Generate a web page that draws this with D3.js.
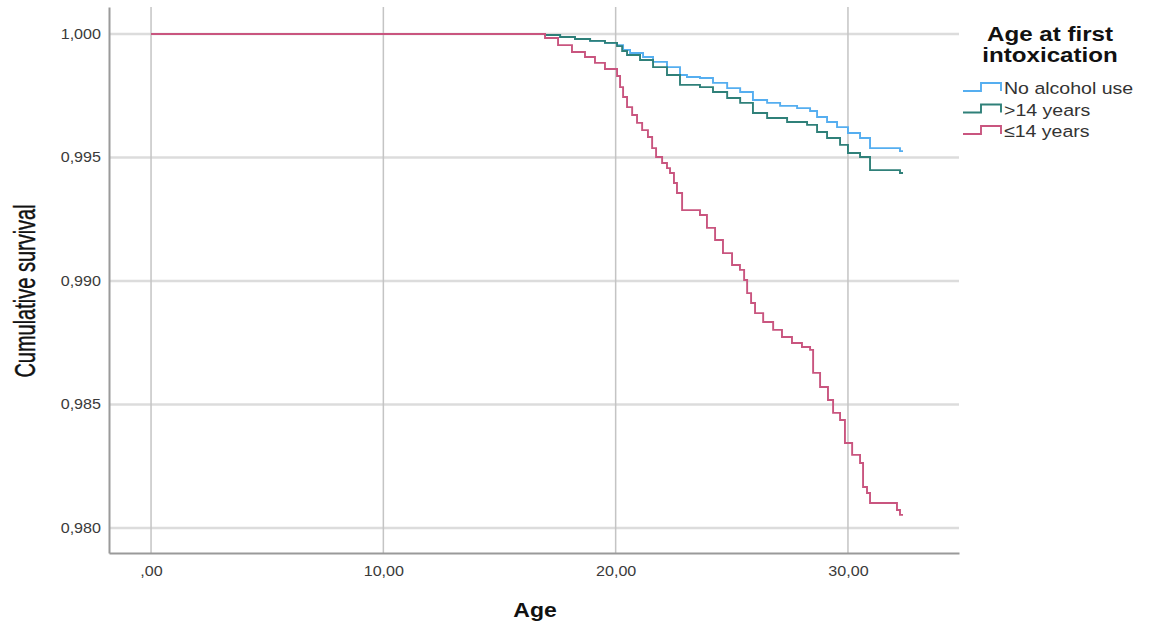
<!DOCTYPE html>
<html>
<head>
<meta charset="utf-8">
<script src="https://cdn.jsdelivr.net/npm/d3@7"></script>
<style>
  html, body { margin: 0; padding: 0; background: #ffffff; }
  svg { display: block; font-family: "Liberation Sans", Arial, sans-serif; }
</style>
</head>
<body>
<svg id="chart" width="1175" height="630"></svg>
<script>
// ---------- data ----------
const categories = ["No alcohol use", ">14 years", "≤14 years"];
const seriesColors = ["#55aef0", "#2f8079", "#c9557f"];

const noAlcoholAge  = [0, 16.96, 17.61, 18.25, 18.90, 19.54, 20.06, 20.32, 20.62, 21.18, 21.61, 22.21, 22.77, 23.07, 23.63, 24.19, 24.80, 25.36, 25.91, 26.52, 27.08, 27.81, 28.37, 28.67, 29.10, 29.53, 30.00, 30.52, 30.95, 32.24];
const noAlcoholSurv = [1, 0.99996, 0.99988, 0.99980, 0.99972, 0.99964, 0.99955, 0.99935, 0.99923, 0.99907, 0.99887, 0.99866, 0.99834, 0.99826, 0.99822, 0.99802, 0.99781, 0.99765, 0.99733, 0.99721, 0.99709, 0.99700, 0.99688, 0.99664, 0.99644, 0.99623, 0.99599, 0.99579, 0.99538, 0.99526];

const over14Age  = [0, 16.96, 17.61, 18.25, 18.90, 19.54, 20.06, 20.28, 20.49, 21.05, 21.61, 22.21, 22.77, 23.63, 24.19, 24.80, 25.36, 25.91, 26.52, 27.38, 28.24, 28.67, 29.10, 29.66, 30.00, 30.52, 30.95, 32.24];
const over14Surv = [1, 0.99996, 0.99988, 0.99980, 0.99972, 0.99964, 0.99951, 0.99931, 0.99915, 0.99895, 0.99866, 0.99834, 0.99794, 0.99785, 0.99765, 0.99741, 0.99721, 0.99680, 0.99660, 0.99644, 0.99632, 0.99603, 0.99579, 0.99551, 0.99518, 0.99502, 0.99449, 0.99437];

const upTo14Age  = [0, 16.96, 17.52, 18.12, 18.68, 19.11, 19.54, 20.06, 20.19, 20.32, 20.49, 20.71, 20.92, 21.14, 21.39, 21.57, 21.74, 22.00, 22.21, 22.34, 22.51, 22.64, 22.86, 23.63, 23.93, 24.28, 24.62, 25.01, 25.35, 25.53, 25.66, 25.83, 26.00, 26.35, 26.78, 27.16, 27.59, 28.02, 28.37, 28.50, 28.80, 29.14, 29.36, 29.66, 29.87, 30.18, 30.52, 30.65, 30.82, 30.95, 32.11, 32.24];
const upTo14Surv = [1, 0.99984, 0.99955, 0.99927, 0.99907, 0.99883, 0.99858, 0.99830, 0.99785, 0.99745, 0.99704, 0.99672, 0.99640, 0.99611, 0.99583, 0.99538, 0.99502, 0.99478, 0.99457, 0.99437, 0.99397, 0.99356, 0.99287, 0.99267, 0.99215, 0.99166, 0.99113, 0.99065, 0.99045, 0.99004, 0.98951, 0.98911, 0.98870, 0.98834, 0.98802, 0.98773, 0.98749, 0.98733, 0.98721, 0.98628, 0.98571, 0.98518, 0.98466, 0.98437, 0.98344, 0.98296, 0.98263, 0.98166, 0.98142, 0.98101, 0.98073, 0.98053];

const lastAge = 32.37;

const xTickValues = [0, 10, 20, 30];
const xTickLabels = [",00", "10,00", "20,00", "30,00"];
const yTickValues = [0.980, 0.985, 0.990, 0.995, 1.000];
const yTickLabels = ["0,980", "0,985", "0,990", "0,995", "1,000"];

const xTitle = "Age";
const yTitle = "Cumulative survival";
const legendTitle = ["Age at first", "intoxication"];

// ---------- layout ----------
const svg = d3.select("#chart");
const plot = { left: 109, right: 959, top: 7, bottom: 553 };
const SX = 1.15; // horizontal text stretch of the original image

const x = d3.scaleLinear().domain([-1.81, 34.78]).range([plot.left, plot.right]);
const y = d3.scaleLinear().domain([0.978988, 1.001093]).range([plot.bottom, plot.top]);

// gridlines
svg.append("g").selectAll("line.h").data(yTickValues).join("line")
  .attr("x1", plot.left).attr("x2", plot.right)
  .attr("y1", d => y(d)).attr("y2", d => y(d))
  .attr("stroke", "#dcdcdc").attr("stroke-width", 2.5);
svg.append("g").selectAll("line.v").data(xTickValues).join("line")
  .attr("x1", d => x(d)).attr("x2", d => x(d))
  .attr("y1", plot.top).attr("y2", plot.bottom)
  .attr("stroke", "#c4c4c4").attr("stroke-width", 1.5);

// axes
const yAxis = d3.axisLeft(y).tickValues(yTickValues)
  .tickFormat((d, i) => yTickLabels[i]).tickSize(0).tickSizeOuter(0).tickPadding(7);
const gy = svg.append("g").attr("transform", `translate(${plot.left},0)`).call(yAxis);
gy.select(".domain").attr("stroke", "#9a9a9a").attr("stroke-width", 2);
gy.selectAll("text").attr("font-size", 14).attr("fill", "#3a3a3a")
  .attr("font-family", "Liberation Sans, Arial, sans-serif")
  .attr("transform", `scale(${SX},1)`);

const xAxis = d3.axisBottom(x).tickValues(xTickValues)
  .tickFormat((d, i) => xTickLabels[i]).tickSize(0).tickSizeOuter(0).tickPadding(13);
const gx = svg.append("g").attr("transform", `translate(0,${plot.bottom})`).call(xAxis);
gx.select(".domain").attr("stroke", "#9a9a9a").attr("stroke-width", 2);
gx.selectAll("text").attr("font-size", 14).attr("fill", "#3a3a3a")
  .attr("font-family", "Liberation Sans, Arial, sans-serif")
  .attr("transform", `scale(${SX},1)`);

// axis titles
svg.append("text").attr("transform", `translate(535,617) scale(${SX},1)`)
  .attr("text-anchor", "middle").attr("font-size", 20).attr("font-weight", "bold")
  .attr("fill", "#111").text(xTitle);
svg.append("text").attr("transform", `translate(35,291) rotate(-90) scale(1,1.45)`)
  .attr("text-anchor", "middle").attr("font-size", 20)
  .attr("fill", "#111").attr("stroke", "#111").attr("stroke-width", 0.3).text(yTitle);

// survival curves
const series = [
  { name: categories[0], color: seriesColors[0], ages: noAlcoholAge, surv: noAlcoholSurv },
  { name: categories[1], color: seriesColors[1], ages: over14Age, surv: over14Surv },
  { name: categories[2], color: seriesColors[2], ages: upTo14Age, surv: upTo14Surv }
];
const line = d3.line().x(d => x(d[0])).y(d => y(d[1])).curve(d3.curveStepAfter);
svg.append("g").selectAll("path").data(series).join("path")
  .attr("d", s => {
    const pts = s.ages.map((a, i) => [a, s.surv[i]]);
    pts.push([lastAge, s.surv[s.surv.length - 1]]);
    return line(pts);
  })
  .attr("fill", "none").attr("stroke", s => s.color).attr("stroke-width", 1.9);

// legend
const lg = svg.append("g");
lg.selectAll("text.title").data(legendTitle).join("text")
  .attr("transform", (d, i) => `translate(1050,${41 + i * 21}) scale(${SX},1)`)
  .attr("text-anchor", "middle").attr("font-size", 21).attr("font-weight", "bold")
  .attr("fill", "#111").text(d => d);
const rows = lg.selectAll("g.row").data(series).join("g")
  .attr("transform", (d, i) => `translate(0,${88 + i * 21.5})`);
rows.append("path")
  .attr("d", "M963,3H981V-5H1001V3")
  .attr("fill", "none").attr("stroke", d => d.color).attr("stroke-width", 1.9);
rows.append("text")
  .attr("transform", `translate(1004,6) scale(${SX},1)`)
  .attr("font-size", 17).attr("fill", "#333").text(d => d.name);
</script>
</body>
</html>
